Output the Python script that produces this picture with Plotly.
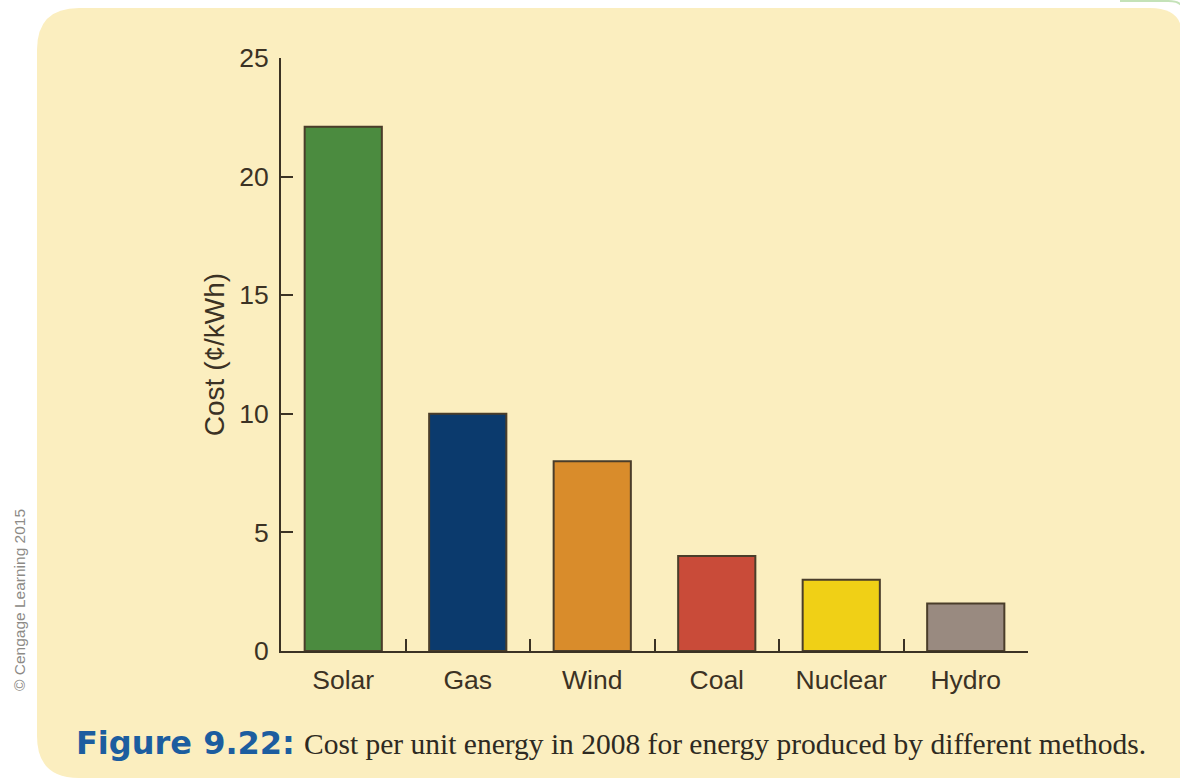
import plotly.graph_objects as go

# Cost of electricity by generation method, 2008 (cents per kWh)
methods = ["Solar", "Gas", "Wind", "Coal", "Nuclear", "Hydro"]
cost_cents = [22.1, 10, 8, 4, 3, 2]
bar_colors = ["#4b8b3f", "#0b3a6d", "#d98c2b", "#c94b39", "#f0d016", "#998a80"]
y_ticks = [0, 5, 10, 15, 20, 25]

W, H = 1180, 782
L, R, T, B = 281, 152, 58, 131          # plot-area margins in px
PW, PH = W - L - R, H - T - B


def px(x):
    """page x pixel -> paper x"""
    return (x - L) / PW


def py(y):
    """page y pixel -> paper y"""
    return (H - B - y) / PH


ink = "#3b3224"
cream = "#fbeebf"

fig = go.Figure(
    go.Bar(
        x=methods,
        y=cost_cents,
        width=0.62,
        marker=dict(color=bar_colors, line=dict(color="#4a3d2a", width=2)),
        hoverinfo="x+y",
    )
)

# rounded cream panel behind everything
x0, x1, top, bot, r = px(37), px(1200), py(8), py(778), 42
rx, ry = r / PW, r / PH
panel = (
    f"M {x0},{top - ry} Q {x0},{top} {x0 + rx},{top} "
    f"L {px(1150)},{top} Q {px(1180)},{top} {px(1182)},{py(32)} "
    f"L {px(1182)},{bot} L {x0 + rx},{bot} Q {x0},{bot} {x0},{bot + ry} Z"
)
shapes = [
    dict(type="path", xref="paper", yref="paper", path=panel,
         fillcolor=cream, line=dict(width=0), layer="below"),
    # faint green strip at the top-right edge
    dict(type="path", xref="paper", yref="paper",
         path=f"M {px(1120)},{py(1)} L {px(1168)},{py(1)} Q {px(1178)},{py(1)} {px(1181)},{py(5)}",
         line=dict(color="#c4e2b8", width=2), layer="below"),
]

annotations = [
    dict(text="© Cengage Learning 2015", xref="paper", yref="paper",
         x=px(19), y=py(600), xanchor="center", yanchor="middle",
         textangle=-90, showarrow=False,
         font=dict(family="Liberation Sans, Arial", size=15.5, color="#8c8a86")),
    dict(text="<b>Figure 9.22:</b>", xref="paper", yref="paper",
         x=px(74), y=py(743), xanchor="left", yanchor="middle", showarrow=False,
         font=dict(family="DejaVu Sans, Arial", size=32, color="#1c5d9f")),
    dict(text="Cost per unit energy in 2008 for energy produced by different methods.",
         xref="paper", yref="paper", x=px(302), y=py(744), xanchor="left", yanchor="middle",
         showarrow=False,
         font=dict(family="Liberation Serif, Times New Roman, serif", size=29.5, color="#2e2a22")),
]

fig.update_layout(
    width=W, height=H,
    margin=dict(l=L, r=R, t=T, b=B),
    paper_bgcolor="white",
    plot_bgcolor="rgba(0,0,0,0)",
    showlegend=False,
    shapes=shapes,
    annotations=annotations,
    font=dict(family="Liberation Sans, Arial", color=ink),
    xaxis=dict(
        type="category",
        range=[-0.5, len(methods) - 0.5],
        showline=True, linecolor=ink, linewidth=2,
        ticks="inside", tickson="boundaries", ticklen=12, tickwidth=2, tickcolor=ink,
        tickfont=dict(size=26.5, color=ink), ticklabelstandoff=4,
        showgrid=False, zeroline=False,
    ),
    yaxis=dict(
        range=[0, 25],
        tickvals=y_ticks,
        showline=True, linecolor=ink, linewidth=2,
        ticks="inside", ticklen=12, tickwidth=2, tickcolor=ink,
        tickfont=dict(size=26.5, color=ink), ticklabelstandoff=5,
        showgrid=False, zeroline=False,
        title=dict(text="Cost (¢/kWh)", font=dict(size=28, color=ink), standoff=6),
    ),
)

fig.write_html("out.html")
